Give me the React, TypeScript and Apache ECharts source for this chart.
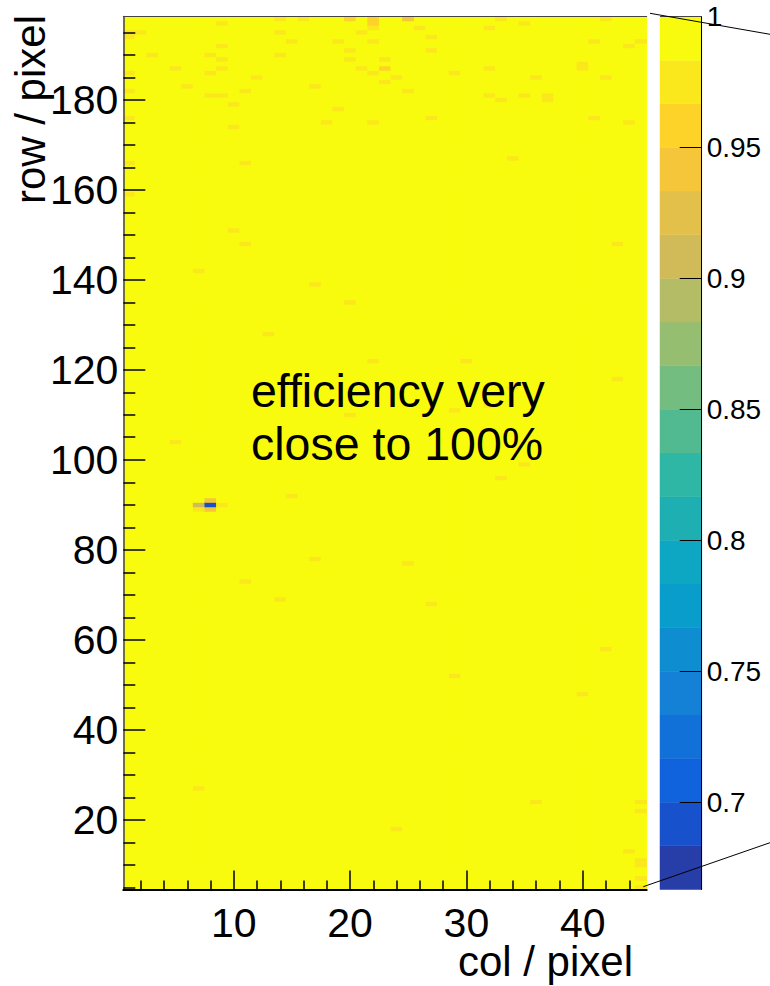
import React, { useEffect, useRef } from "react";
import * as echarts from "echarts";

// ---- data ----
const colCategories: number[] = Array.from({ length: 45 }, (_, i) => i + 1); // col 1..45
const rowCategories: number[] = Array.from({ length: 194 }, (_, i) => i + 5); // row 5..198
const baseEfficiency = 1;
// cells whose efficiency is below 1: [col, row, efficiency]
const lowCells: [number, number, number][] = [
  [14, 198, 0.975], [16, 198, 0.975], [20, 198, 0.965], [22, 198, 0.96], [25, 198, 0.945], [33, 198, 0.97], [42, 198, 0.97],
  [9, 197, 0.975], [22, 197, 0.965], [35, 197, 0.975],
  [22, 196, 0.975], [26, 196, 0.975], [32, 196, 0.975],
  [1, 195, 0.975], [2, 195, 0.975], [14, 195, 0.975], [21, 195, 0.975],
  [1, 194, 0.975], [27, 194, 0.975],
  [15, 193, 0.975], [19, 193, 0.975], [22, 193, 0.975], [41, 193, 0.975], [45, 193, 0.975],
  [9, 192, 0.975], [44, 192, 0.975],
  [20, 191, 0.975], [27, 191, 0.975],
  [3, 190, 0.975], [8, 190, 0.975], [14, 190, 0.975],
  [9, 189, 0.975], [20, 189, 0.975], [23, 189, 0.975],
  [40, 188, 0.97],
  [5, 187, 0.975], [9, 187, 0.975], [21, 187, 0.975], [23, 187, 0.955], [32, 187, 0.975], [40, 187, 0.97],
  [1, 186, 0.975], [8, 186, 0.975], [22, 186, 0.975], [29, 186, 0.975],
  [12, 185, 0.975], [24, 185, 0.975], [36, 185, 0.975], [42, 185, 0.975],
  [23, 184, 0.975],
  [6, 183, 0.975], [17, 183, 0.975],
  [1, 182, 0.975], [11, 182, 0.975], [25, 182, 0.975],
  [8, 181, 0.975], [9, 181, 0.975], [32, 181, 0.975], [35, 181, 0.975], [37, 181, 0.97],
  [33, 180, 0.975], [37, 180, 0.97],
  [10, 179, 0.975],
  [19, 178, 0.975],
  [1, 176, 0.975], [27, 176, 0.975], [41, 176, 0.975],
  [18, 175, 0.975], [22, 175, 0.975], [44, 175, 0.975],
  [10, 174, 0.975],
  [34, 167, 0.975],
  [1, 166, 0.975], [11, 166, 0.975],
  [1, 159, 0.975],
  [10, 151, 0.975],
  [11, 148, 0.975], [43, 148, 0.975],
  [7, 142, 0.975],
  [17, 139, 0.975],
  [20, 135, 0.975],
  [13, 128, 0.975],
  [22, 122, 0.975], [30, 122, 0.975],
  [43, 118, 0.975],
  [34, 116, 0.975],
  [32, 112, 0.975],
  [29, 111, 0.975],
  [20, 110, 0.975],
  [5, 104, 0.975],
  [35, 99, 0.975],
  [33, 96, 0.975],
  [15, 92, 0.975],
  [8, 91, 0.95], [7, 90, 0.915], [8, 90, 0.69], [9, 90, 0.97], [7, 89, 0.975], [8, 89, 0.95],
  [17, 78, 0.975], [25, 77, 0.975], [11, 73, 0.975], [14, 69, 0.975], [27, 68, 0.975],
  [42, 58, 0.975], [29, 52, 0.975], [40, 48, 0.975],
  [7, 27, 0.975], [36, 24, 0.975], [45, 24, 0.975], [45, 22, 0.975], [24, 18, 0.975],
  [44, 13, 0.975], [45, 11, 0.975], [45, 10, 0.975], [45, 7, 0.975], [45, 5, 0.975],
];
const zMin = 0.6667;
const zMax = 1;
const nContours = 20;
const xMajorTicks = [10, 20, 30, 40];
const xMinorTicks = [2, 4, 6, 8, 12, 14, 16, 18, 22, 24, 26, 28, 32, 34, 36, 38, 42, 44];
const yMajorTicks = [20, 40, 60, 80, 100, 120, 140, 160, 180];
const yMinorTicks = [5, 10, 15, 25, 30, 35, 45, 50, 55, 65, 70, 75, 85, 90, 95, 105, 110, 115, 125, 130, 135, 145, 150, 155, 165, 170, 175, 185, 190, 195];
const zTicks = [0.7, 0.75, 0.8, 0.85, 0.9, 0.95, 1];
const xTitle = "col / pixel";
const yTitle = "row / pixel";
const noteLines = ["efficiency very", "close to 100%"];

// ---- ROOT kBird palette ----
const birdStops = [0, 0.125, 0.25, 0.375, 0.5, 0.625, 0.75, 0.875, 1];
const birdR = [0.2082, 0.0592, 0.078, 0.0232, 0.1802, 0.5301, 0.8186, 0.9956, 0.9764];
const birdG = [0.1664, 0.3599, 0.5041, 0.6419, 0.7178, 0.7492, 0.7328, 0.7862, 0.9832];
const birdB = [0.5293, 0.8684, 0.8385, 0.7914, 0.6425, 0.4662, 0.3499, 0.1968, 0.0539];
function bird(t: number): string {
  let s = 0;
  while (s < birdStops.length - 2 && t > birdStops[s + 1]) s++;
  const f = (t - birdStops[s]) / (birdStops[s + 1] - birdStops[s]);
  const c = (a: number[]) => Math.round(255 * (a[s] + (a[s + 1] - a[s]) * f));
  return `rgb(${c(birdR)},${c(birdG)},${c(birdB)})`;
}
const bandColors: string[] = [];
for (let i = 0; i < nContours; i++) {
  const idx = Math.floor(((i + 0.99) * 255) / nContours);
  bandColors.push(bird(Math.min(1, idx / 254)));
}

const FONT = "Liberation Sans, Arial, Helvetica, sans-serif";

export default function App() {
  const ref = useRef<HTMLDivElement>(null);
  useEffect(() => {
    if (!ref.current) return;
    const chart = echarts.init(ref.current, undefined, { renderer: "svg" });

    const lowMap = new Map<string, number>();
    lowCells.forEach(([c, r, v]) => lowMap.set(c + "_" + r, v));
    const heatData: number[][] = [];
    colCategories.forEach((c, ci) => {
      rowCategories.forEach((r, ri) => {
        const v = lowMap.has(c + "_" + r) ? (lowMap.get(c + "_" + r) as number) : baseEfficiency;
        heatData.push([ci, ri, v]);
      });
    });

    const step = (zMax - zMin) / nContours;
    const pieces = bandColors.map((color, i) =>
      i === nContours - 1
        ? { gte: zMin + i * step, lte: zMax + 1e-9, color }
        : { gte: zMin + i * step, lt: zMin + (i + 1) * step, color }
    );
    const bandData = bandColors.map((_, i) => [zMin + i * step, zMin + (i + 1) * step, i]);

    const tickStyle = { color: "#000", width: 1.5 };
    const labelStyle = { fontFamily: FONT, color: "#000" };

    chart.setOption({
      animation: false,
      grid: [
        { left: 123.3, width: 523.4, top: 16.5, height: 873, show: true, backgroundColor: bandColors[nContours - 1], borderWidth: 0 },
        { left: 660, width: 41.7, top: 16.5, height: 873, show: false },
      ],
      xAxis: [
        { type: "category", gridIndex: 0, data: colCategories, show: false },
        {
          type: "value", gridIndex: 0, min: 0.5, max: 45.5, position: "bottom", z: 10,
          axisLine: { show: true, onZero: false, lineStyle: { color: "#000", width: 2 } },
          axisTick: { show: true, inside: true, length: 19, customValues: xMajorTicks, lineStyle: tickStyle },
          axisLabel: { show: true, customValues: xMajorTicks, fontSize: 41, lineHeight: 32, margin: 17, ...labelStyle },
          splitLine: { show: false },
        },
        {
          type: "value", gridIndex: 0, min: 0.5, max: 45.5, position: "bottom", z: 10,
          axisLine: { show: false },
          axisTick: { show: true, inside: true, length: 9, customValues: xMinorTicks, lineStyle: tickStyle },
          axisLabel: { show: false },
          splitLine: { show: false },
        },
        {
          type: "value", gridIndex: 0, min: 0.5, max: 45.5, position: "top", z: 10,
          axisLine: { show: true, onZero: false, lineStyle: { color: "#444", width: 1 } },
          axisTick: { show: false }, axisLabel: { show: false }, splitLine: { show: false },
        },
        { type: "value", gridIndex: 1, min: 0, max: 1, show: false },
      ],
      yAxis: [
        { type: "category", gridIndex: 0, data: rowCategories, show: false },
        {
          type: "value", gridIndex: 0, min: 4.5, max: 198.5, position: "left", z: 10,
          axisLine: { show: true, onZero: false, lineStyle: { color: "#444", width: 1.5 } },
          axisTick: { show: true, inside: true, length: 22, customValues: yMajorTicks, lineStyle: tickStyle },
          axisLabel: { show: true, customValues: yMajorTicks, fontSize: 41, lineHeight: 32, margin: 5, ...labelStyle },
          splitLine: { show: false },
        },
        {
          type: "value", gridIndex: 0, min: 4.5, max: 198.5, position: "left", z: 10,
          axisLine: { show: false },
          axisTick: { show: true, inside: true, length: 12, customValues: yMinorTicks, lineStyle: tickStyle },
          axisLabel: { show: false },
          splitLine: { show: false },
        },
        {
          type: "value", gridIndex: 1, min: zMin, max: zMax, position: "right", z: 10,
          axisLine: { show: true, onZero: false, lineStyle: { color: "#000", width: 1 } },
          axisTick: { show: true, inside: true, length: 22, customValues: zTicks, lineStyle: { color: "#000", width: 1 } },
          axisLabel: {
            show: true, customValues: zTicks, fontSize: 28, margin: 5, ...labelStyle,
            formatter: (v: number) => String(Math.round(v * 100) / 100),
          },
          splitLine: { show: false },
        },
      ],
      visualMap: { type: "piecewise", show: false, seriesIndex: 0, dimension: 2, pieces },
      series: [
        {
          type: "heatmap", xAxisIndex: 0, yAxisIndex: 0, data: heatData,
          progressive: 0, silent: true, emphasis: { disabled: true }, itemStyle: { borderWidth: 0 },
        },
        {
          type: "custom", xAxisIndex: 4, yAxisIndex: 3, data: bandData, silent: true, clip: false,
          encode: { y: [0, 1] },
          renderItem: (_p: any, api: any) => {
            const p0 = api.coord([0, api.value(0)]);
            const p1 = api.coord([1, api.value(1)]);
            const col = bandColors[api.value(2)];
            return {
              type: "rect",
              shape: { x: p0[0], y: p1[1], width: p1[0] - p0[0], height: p0[1] - p1[1] },
              style: { fill: col, stroke: col, lineWidth: 0.5 },
            };
          },
          z: 1,
        },
      ],
      graphic: [
        {
          type: "text", x: 30, y: 15, rotation: Math.PI / 2, z: 100,
          style: { text: yTitle, font: `42px ${FONT}`, lineHeight: 32, fill: "#000", align: "right", verticalAlign: "middle" },
        },
        {
          type: "text", x: 633, y: 961, z: 100,
          style: { text: xTitle, font: `42px ${FONT}`, lineHeight: 30, fill: "#000", align: "right", verticalAlign: "middle" },
        },
        {
          type: "text", x: 251, y: 364, z: 100,
          style: { text: noteLines.join("\n"), font: `46.5px ${FONT}`, lineHeight: 53, fill: "#000", align: "left", verticalAlign: "top" },
        },
        { type: "line", z: 100, shape: { x1: 660, y1: 16.5, x2: 701.7, y2: 16.5 }, style: { stroke: "#444", lineWidth: 1 } },
        { type: "line", z: 101, shape: { x1: 650, y1: 13.3, x2: 770, y2: 34.3 }, style: { stroke: "#000", lineWidth: 1 } },
        { type: "line", z: 101, shape: { x1: 643.3, y1: 886.7, x2: 770, y2: 842.7 }, style: { stroke: "#000", lineWidth: 1 } },
      ],
    });
    return () => chart.dispose();
  }, []);
  return <div ref={ref} style={{ position: "absolute", left: 0, top: 0, width: 770, height: 986 }} />;
}
